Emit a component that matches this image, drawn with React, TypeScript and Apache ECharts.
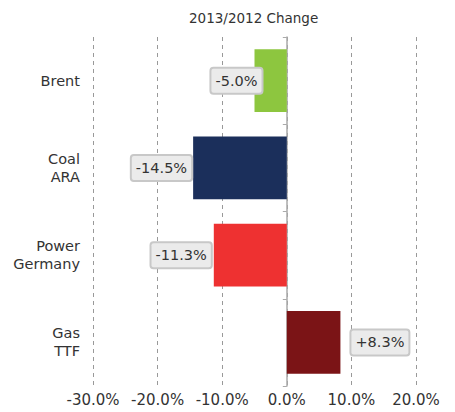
import React, { useEffect, useRef } from "react";
import * as echarts from "echarts";

const categories = ["Brent", "Coal\nARA", "Power\nGermany", "Gas\nTTF"];
const changes = [-5.0, -14.5, -11.3, 8.3];
const barColors = ["#8dc63f", "#1b2f5b", "#ee3131", "#7b1416"];
const labelDistances = [-7, 2, 3, 11];
const xTicks = { min: -30, max: 20, interval: 10 };
const titleText = "2013/2012 Change";

const FONT = "DejaVu Sans";

export default function App() {
  const ref = useRef<HTMLDivElement>(null);
  useEffect(() => {
    if (!ref.current) return;
    const chart = echarts.init(ref.current, undefined, { renderer: "svg" });
    const data = changes.map((v, i) => ({
      value: v,
      itemStyle: { color: barColors[i] },
      label: {
        position: v < 0 ? "left" : "right",
        distance: labelDistances[i],
      },
    }));
    chart.setOption({
      animation: false,
      title: {
        text: titleText,
        left: 184,
        top: 6,
        textStyle: { fontFamily: FONT, fontSize: 13.5, fontWeight: "normal", color: "#333" },
      },
      grid: { left: 93, right: 39, top: 37, bottom: 26, containLabel: false },
      xAxis: {
        type: "value",
        min: xTicks.min,
        max: xTicks.max,
        interval: xTicks.interval,
        axisLine: { show: false },
        axisTick: { show: false },
        axisLabel: {
          fontFamily: FONT,
          fontSize: 15,
          color: "#333",
          margin: 6,
          formatter: (v: number) => v.toFixed(1) + "%",
        },
        splitLine: { show: true, lineStyle: { color: "#999", type: [4, 4], width: 1 } },
      },
      yAxis: [
        {
          type: "category",
          data: categories,
          inverse: true,
          axisLine: { show: false, onZero: false },
          axisTick: { show: false },
          axisLabel: {
            fontFamily: FONT,
            fontSize: 14.5,
            color: "#333",
            margin: 13,
            lineHeight: 18,
            align: "right",
          },
        },
        {
          type: "category",
          data: categories,
          inverse: true,
          position: "left",
          axisLine: { show: true, onZero: true, lineStyle: { color: "#aaa", width: 1.5 } },
          axisTick: { show: true, length: 4, lineStyle: { color: "#aaa" } },
          axisLabel: { show: false },
        },
      ],
      series: [
        {
          type: "bar",
          data,
          barWidth: "72%",
          yAxisIndex: 0,
          label: {
            show: true,
            fontFamily: FONT,
            fontSize: 14.5,
            color: "#333",
            backgroundColor: "#ebebeb",
            borderColor: "#c8c8c8",
            borderWidth: 2,
            borderRadius: 2,
            padding: [5, 4, 4, 4],
            formatter: (p: any) => (p.value > 0 ? "+" : "") + p.value.toFixed(1) + "%",
          },
          z: 1,
        },
      ],
    });
    return () => chart.dispose();
  }, []);
  return <div ref={ref} style={{ width: 455, height: 412, position: "absolute", left: 0, top: 0 }} />;
}
